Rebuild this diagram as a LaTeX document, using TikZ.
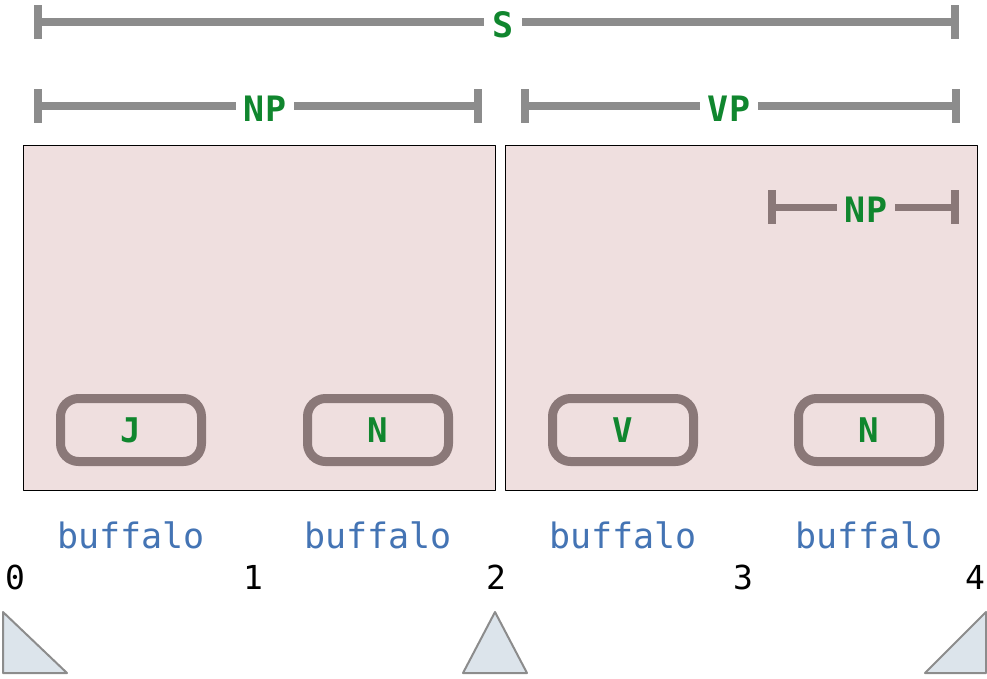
\documentclass[tikz,border=0pt]{standalone}
\usepackage{fontspec}
\setmonofont{DejaVu Sans Mono}
\usetikzlibrary{calc}
\definecolor{bargray}{HTML}{8C8C8C}
\definecolor{leafgray}{HTML}{8A7878}
\definecolor{catgreen}{HTML}{10862E}
\definecolor{wordblue}{HTML}{4474B4}
\definecolor{panelpink}{HTML}{EFDFDF}
\definecolor{triblue}{HTML}{DCE4EB}
\begin{document}
\begin{tikzpicture}[x=1pt, y=-1pt, line join=round,
 bar/.style={draw=bargray, line width=8pt},
 cat/.style={font=\fontsize{35}{35}\selectfont\ttfamily\bfseries, text=catgreen, fill=white, inner sep=8pt},
 panel/.style={draw=black, fill=panelpink, line width=0.8pt},
 leaf/.style={draw=leafgray, line width=9pt, rounded corners=18pt, minimum width=141pt, minimum height=63pt,
  font=\fontsize{34}{34}\selectfont\ttfamily\bfseries, text=catgreen},
 word/.style={font=\fontsize{35}{35}\selectfont\ttfamily, text=wordblue},
 num/.style={font=\fontsize{33}{33}\selectfont\ttfamily},
 tri/.style={draw=bargray, fill=triblue, line width=2pt}]
 \useasboundingbox (0,0) rectangle (987,678);
 % spans above the panels
 \foreach \n/\xa/\xb/\y/\xl/\lab in {s/38/955/22/503/S, np/38/478/106/265/NP, vp/525/956/106/729/VP}{
  \coordinate (\n-l) at (\xa,\y);
  \coordinate (\n-r) at (\xb,\y);
  \draw[bar] (\n-l) -- (\n-r);
  \draw[bar] ([yshift=17pt]\n-l) -- ([yshift=-17pt]\n-l);
  \draw[bar] ([yshift=17pt]\n-r) -- ([yshift=-17pt]\n-r);
  \node[cat] (\n) at (\xl,\y+3) {\lab};
 }
 % panels
 \draw[panel] (23,145) rectangle (495,490);
 \draw[panel] (505,145) rectangle (977,490);
 % inner span
 \coordinate (np2-l) at (772,207);
 \coordinate (np2-r) at (955,207);
 \draw[bar, draw=leafgray, line width=7pt] (np2-l) -- (np2-r);
 \draw[bar, draw=leafgray] ([yshift=17pt]np2-l) -- ([yshift=-17pt]np2-l);
 \draw[bar, draw=leafgray] ([yshift=17pt]np2-r) -- ([yshift=-17pt]np2-r);
 \node[cat, fill=panelpink] (np2) at (866,210) {NP};
 % leaves and words
 \foreach \n/\x/\lab in {j/131/J, n1/378/N, v/623/V, n2/869/N}{
  \node[leaf] (\n) at (\x,430) {\lab};
  \node[word] (w\n) at (\x,535) {buffalo};
 }
 \foreach \i/\x in {0/15,1/253,2/496,3/743,4/975}
  \node[num] (p\i) at (\x,577) {\i};
 % pointers
 \draw[tri] (3,612) -- (3,673) -- (67,673) -- cycle;
 \draw[tri] (495,612) -- (463,673) -- (527,673) -- cycle;
 \draw[tri] (986,612) -- (925,673) -- (986,673) -- cycle;
\end{tikzpicture}
\end{document}
